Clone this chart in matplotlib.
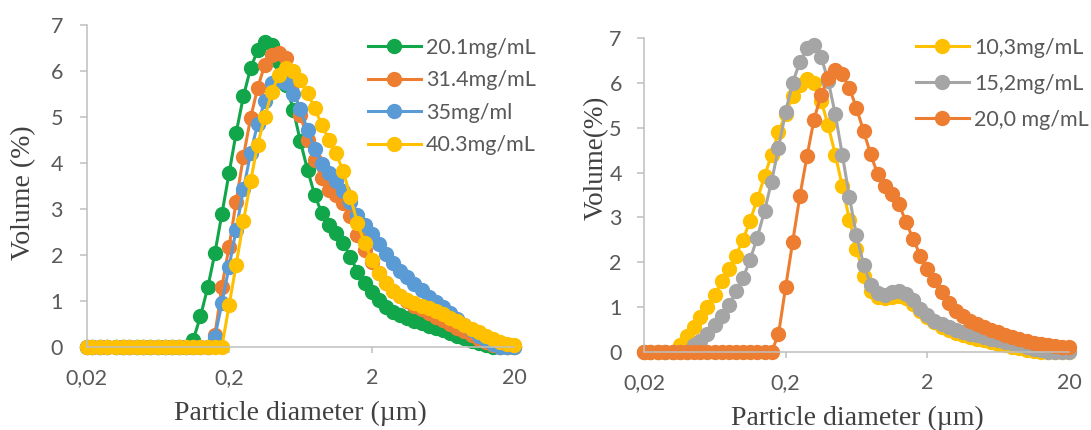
import matplotlib
matplotlib.use("Agg")
import matplotlib.pyplot as plt
from matplotlib.ticker import NullLocator

plt.rcParams['font.family'] = ['Lato', 'DejaVu Sans']

# particle size classes (um), 0.02 -> 20
size_um = [0.020, 0.022, 0.025, 0.028, 0.032, 0.036, 0.040, 0.045, 0.050, 0.056,
           0.063, 0.071, 0.080, 0.089, 0.100, 0.112, 0.126, 0.142, 0.159, 0.178,
           0.200, 0.224, 0.252, 0.283, 0.317, 0.356, 0.399, 0.448, 0.502, 0.564,
           0.632, 0.710, 0.796, 0.893, 1.002, 1.125, 1.262, 1.416, 1.589, 1.783,
           2.000, 2.244, 2.518, 2.825, 3.170, 3.557, 3.991, 4.477, 5.024, 5.637,
           6.325, 7.096, 7.962, 8.934, 10.024, 11.247, 12.619, 14.159, 15.887, 17.825,
           20.000]

# left chart - volume (%)
vol_201 = [0, 0, 0, 0, 0, 0, 0, 0, 0, 0,
           0, 0, 0, 0, 0, 0.15, 0.67, 1.31, 2.04, 2.89,
           3.78, 4.65, 5.45, 6.06, 6.45, 6.62, 6.57, 6.2, 5.7, 5.16,
           4.47, 3.85, 3.31, 2.91, 2.65, 2.47, 2.26, 1.96, 1.64, 1.39,
           1.2, 1.02, 0.88, 0.77, 0.7, 0.63, 0.57, 0.52, 0.46, 0.41,
           0.36, 0.3, 0.25, 0.2, 0.14, 0.09, 0.05, 0.01, 0, 0,
           0]
vol_314 = [0, 0, 0, 0, 0, 0, 0, 0, 0, 0,
           0, 0, 0, 0, 0, 0, 0, 0, 0.26, 1.31,
           2.18, 3.16, 4.14, 4.98, 5.63, 6.14, 6.35, 6.39, 6.28, 5.75,
           5.05, 4.5, 4.07, 3.67, 3.42, 3.31, 3.13, 2.84, 2.44, 2.11,
           1.85, 1.6, 1.4, 1.22, 1.1, 1.0, 0.9, 0.82, 0.74, 0.66,
           0.58, 0.5, 0.42, 0.34, 0.26, 0.18, 0.1, 0.04, 0, 0,
           0]
vol_35 = [0, 0, 0, 0, 0, 0, 0, 0, 0, 0,
          0, 0, 0, 0, 0, 0, 0, 0, 0.22, 0.95,
          1.75, 2.55, 3.43, 4.21, 4.85, 5.34, 5.73, 5.78, 5.73, 5.5,
          5.18, 4.72, 4.3, 3.98, 3.78, 3.6, 3.4, 3.15, 2.88, 2.66,
          2.45, 2.25, 2.02, 1.83, 1.66, 1.52, 1.38, 1.23, 1.09, 0.97,
          0.86, 0.73, 0.6, 0.47, 0.36, 0.25, 0.15, 0.06, 0, 0,
          0]
vol_403 = [0, 0, 0, 0, 0, 0, 0, 0, 0, 0,
           0, 0, 0, 0, 0, 0, 0, 0, 0, 0,
           0.91, 1.78, 2.73, 3.6, 4.4, 5.0, 5.55, 5.92, 6.06, 5.99,
           5.81, 5.52, 5.19, 4.83, 4.5, 4.21, 3.82, 3.27, 2.69, 2.26,
           1.89, 1.6, 1.39, 1.22, 1.1, 1.02, 0.96, 0.9, 0.84, 0.78,
           0.71, 0.64, 0.56, 0.48, 0.4, 0.32, 0.25, 0.17, 0.11, 0.07,
           0.05]

# right chart - volume (%)
vol_103 = [0, 0, 0, 0, 0, 0.15, 0.35, 0.55, 0.78, 1.0,
           1.28, 1.58, 1.86, 2.15, 2.5, 2.92, 3.4, 3.92, 4.4, 4.9,
           5.3, 5.7, 5.95, 6.08, 6.0, 5.6, 5.05, 4.4, 3.7, 2.95,
           2.3, 1.7, 1.35, 1.22, 1.2, 1.22, 1.25, 1.2, 1.08, 0.92,
           0.78, 0.66, 0.56, 0.49, 0.43, 0.38, 0.34, 0.3, 0.26, 0.22,
           0.18, 0.15, 0.11, 0.08, 0.05, 0.02, 0, 0, 0, 0,
           0]
vol_152 = [0, 0, 0, 0, 0, 0, 0, 0.16, 0.25, 0.4,
           0.6, 0.8, 1.05, 1.35, 1.65, 2.05, 2.55, 3.15, 3.8, 4.55,
           5.36, 6.0, 6.47, 6.77, 6.85, 6.58, 6.05, 5.3, 4.4, 3.45,
           2.6, 1.95, 1.5, 1.32, 1.27, 1.33, 1.36, 1.3, 1.15, 0.95,
           0.82, 0.7, 0.62, 0.56, 0.5, 0.45, 0.41, 0.37, 0.34, 0.3,
           0.26, 0.23, 0.19, 0.15, 0.11, 0.07, 0.04, 0.01, 0, 0,
           0]
vol_200 = [0, 0, 0, 0, 0, 0, 0, 0, 0, 0,
           0, 0, 0, 0, 0, 0, 0, 0, 0, 0.4,
           1.45, 2.45, 3.48, 4.37, 5.18, 5.74, 6.1, 6.29, 6.2, 5.88,
           5.44, 4.92, 4.41, 3.96, 3.7, 3.52, 3.3, 2.89, 2.52, 2.15,
           1.85, 1.6, 1.33, 1.1, 0.92, 0.8, 0.7, 0.62, 0.55, 0.49,
           0.44, 0.39, 0.34, 0.29, 0.25, 0.21, 0.18, 0.15, 0.13, 0.12,
           0.12]

left_series = [(vol_201, '20.1mg/mL', '#12A64B'),
               (vol_314, '31.4mg/mL', '#ED7D31'),
               (vol_35, '35mg/ml', '#5B9BD5'),
               (vol_403, '40.3mg/mL', '#FFC000')]
right_series = [(vol_103, '10,3mg/mL', '#FFC000'),
                (vol_152, '15,2mg/mL', '#A5A5A5'),
                (vol_200, '20,0 mg/mL', '#ED7D31')]

x_ticks = [0.02, 0.2, 2, 20]
x_ticklabels = ['0,02', '0,2', '2', '20']

W, H = 1091, 430
fig = plt.figure(figsize=(W / 100, H / 100), dpi=100)
ax1 = fig.add_axes([86.5 / W, (H - 347) / H, 427.8 / W, 322 / H])
ax2 = fig.add_axes([644 / W, (H - 352) / H, 425 / W, 314 / H])

serif = 'Liberation Serif'
txt_col = '#595959'


def style_axis(ax, ypad):
    ax.set_xscale('log')
    ax.set_xlim(0.02, 20)
    ax.set_ylim(0, 7)
    ax.set_xticks(x_ticks)
    ax.set_xticklabels(x_ticklabels)
    ax.xaxis.set_minor_locator(NullLocator())
    ax.set_yticks(range(8))
    for s in ['top', 'right']:
        ax.spines[s].set_visible(False)
    for s in ['left', 'bottom']:
        ax.spines[s].set_color('#BFBFBF')
        ax.spines[s].set_linewidth(1.1)
    ax.tick_params(axis='both', colors='#BFBFBF', labelcolor=txt_col,
                   labelsize=15.5, width=1.1)
    ax.tick_params(axis='y', length=5, pad=ypad)
    ax.tick_params(axis='x', length=4, pad=11)


style_axis(ax1, 12)
style_axis(ax2, 11)

for vals, lab, col in left_series:
    ax1.plot(size_um, vals, '-o', color=col, ms=10, lw=2.2, label=lab, clip_on=False)
for vals, lab, col in right_series:
    ax2.plot(size_um, vals, '-o', color=col, ms=10, lw=2.2, label=lab, clip_on=False)

leg_kw = dict(loc='upper left', bbox_transform=fig.transFigure, frameon=False,
              handlelength=2.45, handletextpad=0.25, borderpad=0, borderaxespad=0,
              fontsize=15.5, labelcolor=txt_col)
ax1.legend(bbox_to_anchor=(368 / W, 1 - 38 / H), labelspacing=0.58, **leg_kw)
ax2.legend(bbox_to_anchor=(916 / W, 1 - 38 / H), labelspacing=0.74, **leg_kw)

# axis titles
fig.text(24 / W, 1 - 193 / H, 'Volume (%)', rotation=90, ha='center', va='center',
         family=serif, fontsize=20, color='#404040')
fig.text(596 / W, 1 - 158 / H, 'Volume(%)', rotation=90, ha='center', va='center',
         family=serif, fontsize=19.5, color='#404040')
fig.text(300 / W, 1 - 413 / H, 'Particle diameter (µm)', ha='center', va='center',
         family=serif, fontsize=20, color='#404040')
fig.text(857 / W, 1 - 418 / H, 'Particle diameter (µm)', ha='center', va='center',
         family=serif, fontsize=20, color='#404040')

fig.savefig('out.png', dpi=100)
